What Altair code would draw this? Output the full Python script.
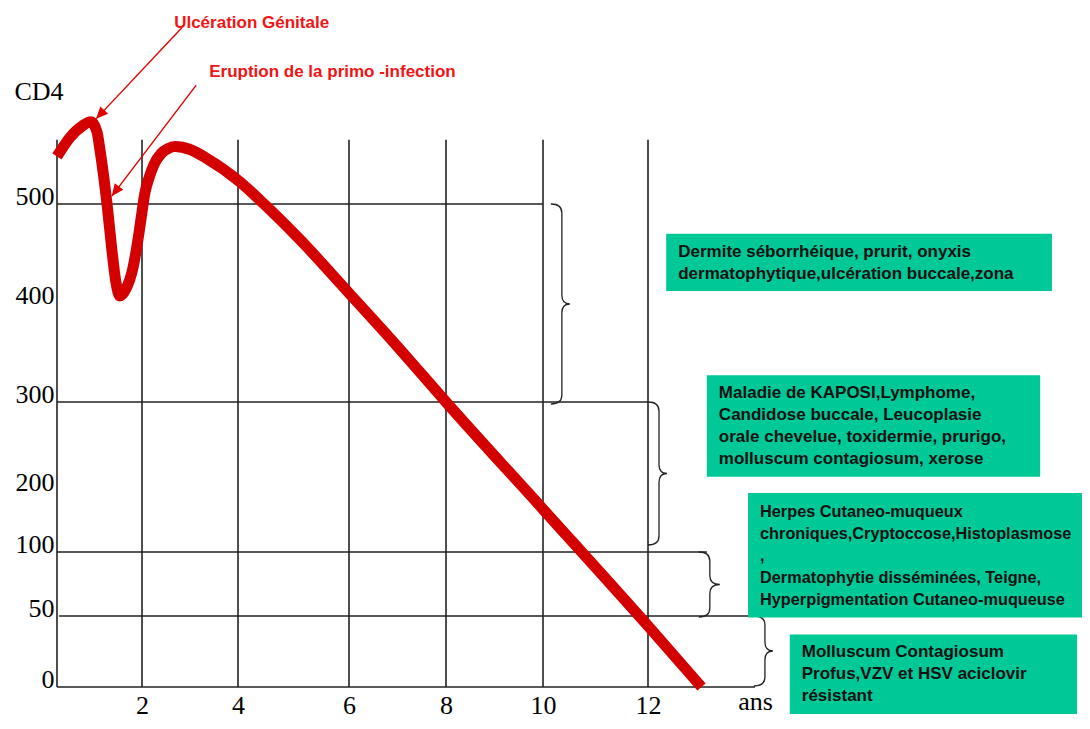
import altair as alt
import pandas as pd

# ---------------- data ----------------
# CD4 curve (years, CD4 count)
years = [0, 0.3, 0.6, 0.8, 0.94, 1.01, 1.11, 1.18, 1.29, 1.39, 1.48, 1.62, 1.79, 1.93,
         2.0, 2.06, 2.15, 2.25, 2.4, 2.54, 2.69, 3.0, 3.35, 4.02, 4.47, 5.1, 6, 7, 8,
         10, 12, 13]
cd4 = [548, 567, 579, 583, 573, 555, 524, 499, 454, 420, 407, 414, 436, 471,
       492, 511, 527, 540, 551, 556, 558, 555, 546, 523, 500, 465, 410, 356, 300,
       169, 43, 0]

x_ticks = [2, 4, 6, 8, 10, 12]
y_ticks = [0, 50, 100, 200, 300, 400, 500]

# vertical grid lines (years) and their top (CD4)
grid_years = [0, 2, 4, 6, 8, 10, 12]
grid_top = 565

# horizontal threshold lines: level, start year, end year
thr_level = [500, 300, 100, 50, 0]
thr_start = [0, 0, 0, 0.05, 0]
thr_end = [10, 12, 13.1, 13.95, 14]

# braces: left year, top CD4 of the band
brace_year = [10.15, 12.0, 12.95, 13.98]
brace_top = [500, 300, 100, 50]

# green boxes (years / CD4)
box_x = [12.34, 13.1, 13.87, 14.65]
box_x2 = [19.55, 19.33, 20.26, 20.02]
box_top = [470, 327, 195, 37]
box_bottom = [412, 215, 49, -19]
box_first_line = [451.5, 309, 164.5, 24.6]
box_texts = [
    "Dermite séborrhéique, prurit, onyxis\ndermatophytique,ulcération buccale,zona",
    "Maladie de KAPOSI,Lymphome,\nCandidose buccale, Leucoplasie\norale chevelue, toxidermie, prurigo,\nmolluscum contagiosum, xerose",
    "Herpes Cutaneo-muqueux\nchroniques,Cryptoccose,Histoplasmose\n,\nDermatophytie disséminées, Teigne,\nHyperpigmentation Cutaneo-muqueuse",
    "Molluscum Contagiosum\nProfus,VZV et HSV aciclovir\nrésistant",
]

# red annotations
ann_text = ["Ulcération Génitale", "Eruption de la primo -infection"]
ann_x = [2.67, 3.4]
ann_y = [683, 633]
arrow_tail_x = [2.83, 3.13]
arrow_tail_y = [678, 620]
arrow_tip_x = [0.92, 1.29]
arrow_tip_y = [586, 508]

# hand-drawn (non-uniform) axes: breakpoints of the piecewise scales
x_breaks = [0, 2, 4, 6, 8, 10, 12, 14, 20, 21]
x_range = [0, 85, 181, 292, 389, 486, 591, 698, 1019, 1072.5]
y_breaks = [0, 50, 100, 200, 300, 400, 500, 600, 700]
y_range = [679, 608, 544, 482, 394, 295, 196, 97, -2]

# ---------------- styles ----------------
SERIF = "Liberation Serif"
SANS = "Liberation Sans"
LINE = "#222222"
GREEN = "#00C896"
CURVE_RED = "#D40000"
TEXT_RED = "#F01414"

xs = alt.Scale(domain=x_breaks, range=x_range, nice=False, zero=False)
ys = alt.Scale(domain=y_breaks, range=y_range, nice=False, zero=False)

x_axis = alt.Axis(values=x_ticks, grid=False, domain=False, ticks=False, tickSize=0,
                  labelPadding=18, labelFont=SERIF, labelFontSize=26, labelColor="#000",
                  labelBaseline="middle", labelAngle=0, labelFlush=False,
                  labelOverlap=False,
                  title="ans", titleFont=SERIF, titleFontSize=26, titleFontWeight="normal",
                  titleColor="#000", titleX=698, titleY=14, titleAlign="center",
                  titleBaseline="middle")
y_axis = alt.Axis(values=y_ticks, grid=False, domain=False, ticks=False, tickSize=0,
                  labelPadding=3, labelOffset=-8, labelFont=SERIF, labelFontSize=26,
                  labelColor="#000", labelAlign="right", labelBaseline="middle",
                  labelFlush=False, labelOverlap=False,
                  title="CD4", titleAngle=0, titleFont=SERIF, titleFontSize=26,
                  titleFontWeight="normal", titleColor="#000", titleX=-43, titleY=83,
                  titleAlign="left", titleBaseline="middle")


def X(field="year"):
    return alt.X(f"{field}:Q", scale=xs, axis=x_axis)


def Y(field="cd4"):
    return alt.Y(f"{field}:Q", scale=ys, axis=y_axis)


# vertical grid lines
df_vgrid = pd.DataFrame({"year": grid_years, "cd4": [0] * len(grid_years),
                         "cd4_end": [grid_top] * len(grid_years)})
vgrid = alt.Chart(df_vgrid).mark_rule(color=LINE, strokeWidth=1.6).encode(
    x=X(), y=Y(), y2="cd4_end:Q")

# horizontal threshold lines
df_hgrid = pd.DataFrame({"year": thr_start, "year_end": thr_end, "cd4": thr_level})
hgrid = alt.Chart(df_hgrid).mark_rule(color=LINE, strokeWidth=1.6).encode(
    x=X(), x2="year_end:Q", y=Y())


# braces as custom symbol paths (path units: sqrt(size)/2 px)
def brace_path(H, W=19.0, v=11.0, r=9.0):
    s = H / 2.0
    h = H / 2.0
    pts = [("M", [(0, 0)]), ("Q", [(v, 0), (v, r)]), ("L", [(v, h - r)]),
           ("Q", [(v, h), (W, h)]), ("Q", [(v, h), (v, h + r)]), ("L", [(v, H - r)]),
           ("Q", [(v, H), (0, H)])]
    out = []
    for cmd, ps in pts:
        out.append(cmd + " ".join(f"{px / s:.4f},{py / s:.4f}" for px, py in ps))
    return " ".join(out)


brace_heights = [200, 143, 65, 70]
brace_tips = [19, 19, 21, 19]
brace_layers = []
for i in range(len(brace_year)):
    H = brace_heights[i]
    d = pd.DataFrame({"year": [brace_year[i]], "cd4": [brace_top[i]]})
    brace_layers.append(
        alt.Chart(d).mark_point(shape=brace_path(H, W=brace_tips[i]), size=H * H,
                                filled=False, color=LINE, strokeWidth=1.3, opacity=1)
        .encode(x=X(), y=Y()))

# green boxes
df_box = pd.DataFrame({"year": box_x, "year_end": box_x2, "cd4": box_top,
                       "cd4_end": box_bottom})
boxes = alt.Chart(df_box).mark_rect(color=GREEN).encode(
    x=X(), x2="year_end:Q", y=Y(), y2="cd4_end:Q")

df_boxtext = pd.DataFrame({"year": box_x, "cd4": box_first_line, "label": box_texts,
                           "idx": list(range(len(box_texts)))})
box_font_sizes = [17, 17, 16.3, 17]
box_text_layers = []
for i in range(len(box_texts)):
    box_text_layers.append(
        alt.Chart(df_boxtext).transform_filter(alt.datum.idx == i).mark_text(
            align="left", baseline="middle", dx=12, font=SANS, fontWeight="bold",
            fontSize=box_font_sizes[i], lineHeight=22, lineBreak="\n",
            color="#111111").encode(x=X(), y=Y(), text="label:N"))

# CD4 curve
df_curve = pd.DataFrame({"year": years, "cd4": cd4, "order": list(range(len(years)))})
curve = alt.Chart(df_curve).mark_line(color=CURVE_RED, strokeWidth=11,
                                      interpolate="monotone", strokeCap="butt").encode(
    x=X(), y=Y(), order="order:Q")

# arrows
df_arrow = pd.DataFrame({"year": arrow_tail_x, "cd4": arrow_tail_y,
                         "year_end": arrow_tip_x, "cd4_end": arrow_tip_y})
arrow_lines = alt.Chart(df_arrow).mark_rule(color="#E00000", strokeWidth=1.4).encode(
    x=X(), y=Y(), x2="year_end:Q", y2="cd4_end:Q")

head_angles = [223, 217]
head_layers = []
for i in range(len(arrow_tip_x)):
    d = pd.DataFrame({"year": [arrow_tip_x[i]], "cd4": [arrow_tip_y[i]]})
    head_layers.append(
        alt.Chart(d).mark_point(shape="M0,0 L-0.45,1 L0.45,1 Z", size=576, filled=True,
                                angle=head_angles[i], color="#E00000", opacity=1,
                                strokeWidth=0)
        .encode(x=X(), y=Y()))

# red annotation texts
df_ann = pd.DataFrame({"year": ann_x, "cd4": ann_y, "label": ann_text})
ann = alt.Chart(df_ann).mark_text(align="left", baseline="middle", font=SANS,
                                  fontWeight="bold", fontSize=17, color=TEXT_RED).encode(
    x=X(), y=Y(), text="label:N")

chart = alt.layer(vgrid, hgrid, *brace_layers, boxes, *box_text_layers, curve,
                  arrow_lines, *head_layers, ann).properties(
    width=1025, height=679,
    padding={"left": 49, "top": 0, "right": 0, "bottom": 34},
    autosize=alt.AutoSizeParams(type="none"),
    background="white",
).configure_view(stroke=None)

chart.save("out.html", embed_options={"renderer": "svg", "actions": False})
